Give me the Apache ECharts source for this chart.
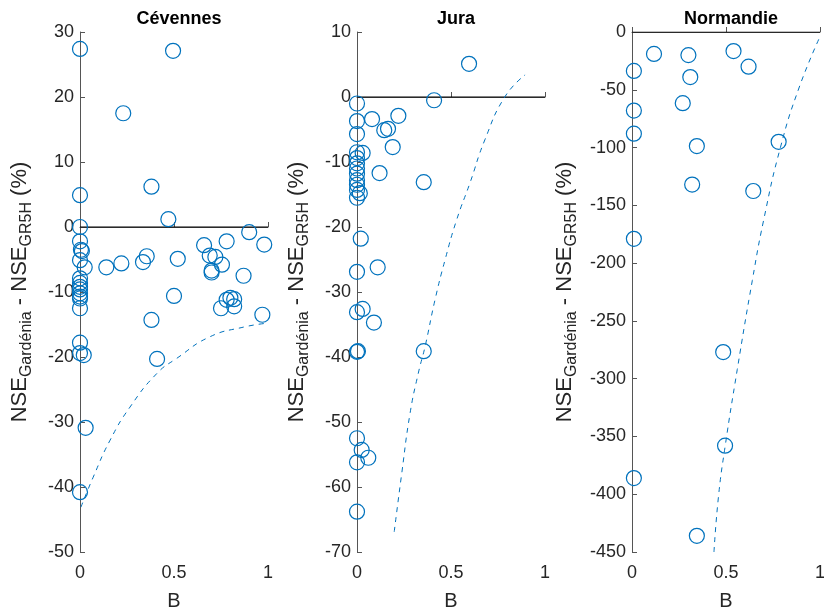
<!DOCTYPE html>
<html>
<head>
<meta charset="utf-8">
<script src="https://cdn.jsdelivr.net/npm/echarts@6/dist/echarts.min.js"></script>
<style>
  html, body { margin: 0; padding: 0; background: #fff; }
  #chart { width: 824px; height: 610px; }
</style>
</head>
<body>
<div id="chart"></div>
<script>
const titles = ['Cévennes', 'Jura', 'Normandie'];

// B and NSE difference (%) per basin
const cevennesB = [0, 0, 0, 0, 0.005, 0.01, 0, 0, 0, 0, 0, 0, 0, 0, 0, 0, 0, 0, 0.025, 0.02, 0.03,
  0.14, 0.22, 0.23, 0.335, 0.355, 0.38, 0.38, 0.41, 0.47, 0.495, 0.5, 0.52, 0.66, 0.69, 0.72, 0.70, 0.70,
  0.755, 0.75, 0.78, 0.78, 0.80, 0.82, 0.82, 0.87, 0.9, 0.97, 0.98];
const cevennesDiff = [27.4, 4.9, 0, -2.2, -3.5, -3.7, -5.1, -7.9, -8.6, -9.2, -9.6, -10.2, -10.7, -11.0, -12.5, -17.8, -19.4, -40.8, -6.2, -19.7, -30.9,
  -6.2, -5.6, 17.5, -5.4, -4.5, 6.2, -14.3, -20.3, 1.2, 27.1, -10.6, -4.9, -2.8, -4.4, -4.6, -6.7, -7.0,
  -5.8, -12.5, -2.2, -11.2, -10.9, -11.1, -12.2, -7.5, -0.8, -13.5, -2.7];

const juraB = [0, 0, 0, 0, 0, 0, 0, 0, 0, 0, 0, 0, 0.015, 0.02, 0, 0, 0.03, 0, 0.005, 0, 0.025, 0.06, 0, 0,
  0.08, 0.22, 0.145, 0.165, 0.19, 0.03, 0.12, 0.355, 0.11, 0.09, 0.355, 0.41, 0.596];
const juraDiff = [-1, -3.7, -5.7, -8.5, -9.4, -10.2, -11, -11.8, -12.8, -13.5, -14.3, -15.5, -14.8, -21.8, -26.9, -33.1, -32.6, -39.2, -39.1, -52.5, -54.3, -55.5, -56.2, -63.8,
  -3.4, -2.9, -5.1, -4.9, -7.7, -8.6, -11.7, -13.1, -26.2, -34.7, -39.1, -0.5, 5.1];

const normandieB = [0.117, 0.30, 0.54, 0.62, 0.01, 0.31, 0.27, 0.01, 0.01, 0.345, 0.78, 0.32, 0.645, 0.01,
  0.485, 0.495, 0.01, 0.345];
const normandieDiff = [-19, -20, -16.5, -30, -33.7, -39, -61.6, -68, -88, -98.7, -95, -132, -137.6, -179,
  -277, -358, -386, -436];

// dashed curves
const cevennesCurveB = [0.005, 0.07, 0.16, 0.266, 0.41, 0.515, 0.69, 0.87, 0.995];
const cevennesCurve = [-43.1, -38.5, -32.8, -27.7, -22.5, -20.2, -16.9, -15.4, -14.8];
const juraCurveB = [0.198, 0.238, 0.282, 0.326, 0.362, 0.415, 0.468, 0.53, 0.60, 0.68, 0.787, 0.894];
const juraCurve = [-66.9, -57.9, -48.7, -42.5, -38.4, -31.2, -25.1, -18.9, -13.3, -6.6, 0.05, 3.4];
const normandieCurveB = [0.436, 0.46, 0.495, 0.56, 0.64, 0.70, 0.79, 0.89, 1.0];
const normandieCurve = [-450, -402, -359, -292, -215, -163, -99.6, -47.6, -4];

const yMins = [-50, -70, -450];
const yMaxs = [30, 10, 0];
const yIntervals = [10, 10, 50];
const xTicks = [0, 0.5, 1];

const blue = '#0072BD';
const axisColor = '#555';
const textColor = '#262626';
const lefts = [80, 357, 632];
const nameGaps = [45, 45, 52];

const pts = (xs, ys) => xs.map((x, i) => [x, ys[i]]);
const scatterData = [pts(cevennesB, cevennesDiff), pts(juraB, juraDiff), pts(normandieB, normandieDiff)];
const curveData = [pts(cevennesCurveB, cevennesCurve), pts(juraCurveB, juraCurve), pts(normandieCurveB, normandieCurve)];

const grids = [], xAxes = [], yAxes = [], series = [], title = [];
for (let k = 0; k < 3; k++) {
  grids.push({ left: lefts[k], top: 32, width: 188, height: 520, outerBoundsMode: 'none' });
  title.push({
    text: titles[k], left: lefts[k] + 94, top: 5, textAlign: 'center',
    textStyle: { fontFamily: 'Liberation Sans', fontSize: 18, fontWeight: 'bold', color: '#000' }
  });
  xAxes.push({
    gridIndex: k, type: 'value', min: 0, max: 1, interval: 0.5,
    name: 'B', nameLocation: 'middle', nameGap: 39,
    nameTextStyle: { fontFamily: 'Liberation Sans', fontSize: 20, color: textColor },
    axisLine: { lineStyle: { color: axisColor } },
    axisTick: { inside: true, length: 5, lineStyle: { color: axisColor } },
    axisLabel: {
      fontFamily: 'Liberation Sans', fontSize: 18, color: textColor, margin: 12,
      formatter: v => xTicks.includes(v) ? String(v) : ''
    },
    splitLine: { show: false }
  });
  yAxes.push({
    gridIndex: k, type: 'value', min: yMins[k], max: yMaxs[k], interval: yIntervals[k],
    name: '{m|NSE}{s|Gardénia}{m| - NSE}{s|GR5H}{m| (%)}',
    nameLocation: 'middle', nameGap: nameGaps[k],
    nameTextStyle: {
      fontFamily: 'Liberation Sans', color: textColor,
      rich: {
        m: { fontFamily: 'Liberation Sans', fontSize: 22, color: textColor, lineHeight: 30, verticalAlign: 'middle' },
        s: { fontFamily: 'Liberation Sans', fontSize: 16, color: textColor, lineHeight: 16, verticalAlign: 'bottom' }
      }
    },
    axisLine: { onZero: false, lineStyle: { color: axisColor } },
    axisTick: { inside: true, length: 5, lineStyle: { color: axisColor } },
    axisLabel: { fontFamily: 'Liberation Sans', fontSize: 18, color: textColor, margin: 6 },
    splitLine: { show: false }
  });
  series.push({
    type: 'line', xAxisIndex: k, yAxisIndex: k, data: [[0, 0], [1, 0]],
    symbol: 'none', lineStyle: { color: '#000', width: 1 }, silent: true, z: 1
  });
  series.push({
    type: 'line', xAxisIndex: k, yAxisIndex: k, data: curveData[k], smooth: true,
    symbol: 'none', lineStyle: { color: blue, width: 1, type: [5, 5] }, silent: true, z: 2
  });
  series.push({
    type: 'scatter', xAxisIndex: k, yAxisIndex: k, data: scatterData[k], clip: false,
    symbol: 'circle', symbolSize: 15,
    itemStyle: { color: 'transparent', borderColor: blue, borderWidth: 1.2, opacity: 1 },
    z: 3
  });
}

const chart = echarts.init(document.getElementById('chart'), null, { renderer: 'canvas' });
chart.setOption({
  animation: false,
  backgroundColor: '#fff',
  title, grid: grids, xAxis: xAxes, yAxis: yAxes, series
});
</script>
</body>
</html>
